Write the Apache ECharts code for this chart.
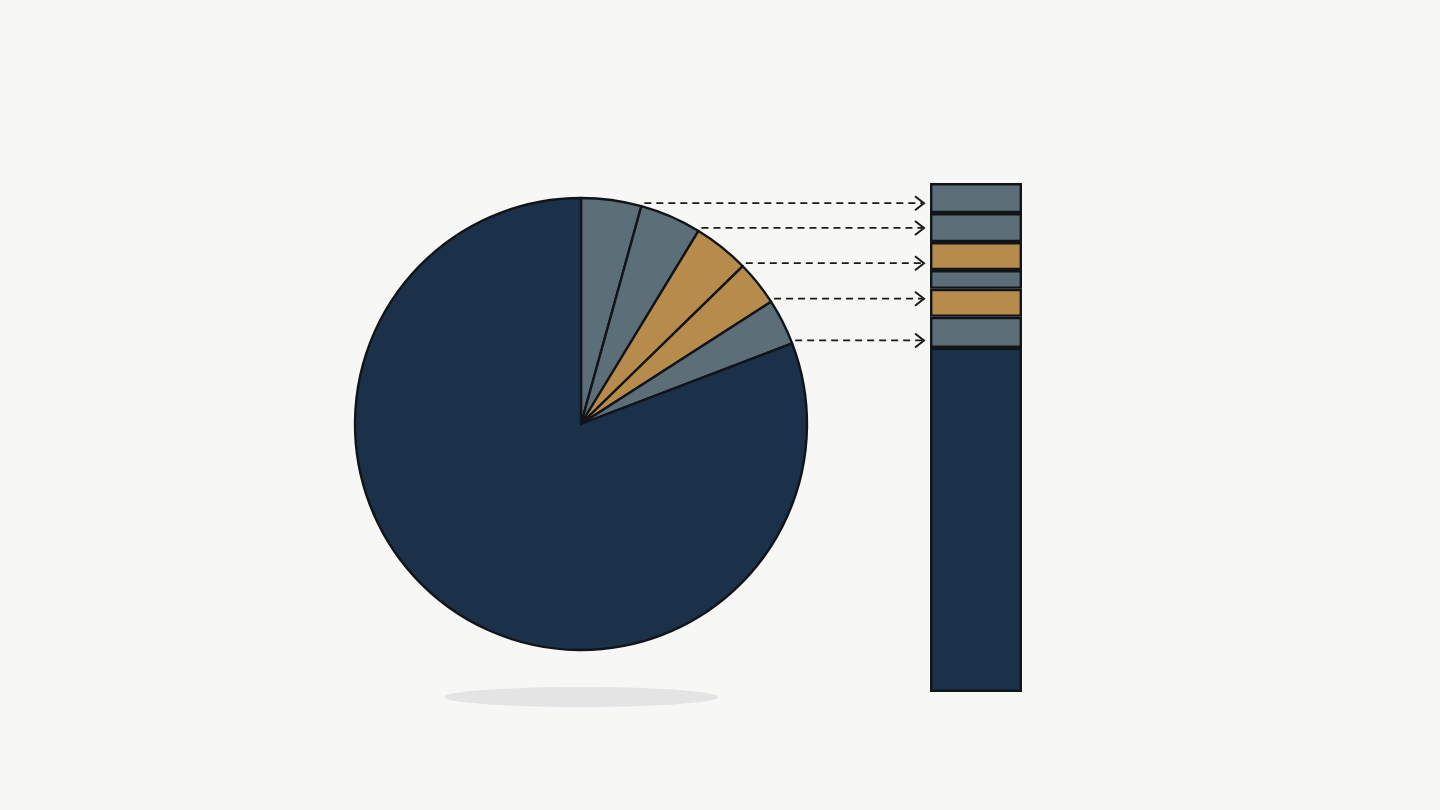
<!DOCTYPE html>
<html>
<head>
<meta charset="utf-8">
<script src="https://cdn.jsdelivr.net/npm/echarts@6/dist/echarts.min.js"></script>
<style>
html,body{margin:0;padding:0;background:#f7f7f5;}
#chart{width:1440px;height:810px;}
</style>
</head>
<body>
<div id="chart"></div>
<script>
// Pie slices, clockwise from 12 o'clock (percent of whole)
const pieNames = ['A', 'B', 'C', 'D', 'E', 'Rest'];
const pieValues = [4.3, 4.4, 4.0, 3.2, 3.3, 80.8];
const pieKinds = ['gray', 'gray', 'gold', 'gold', 'gray', 'dark'];

// Stacked bar segments, top to bottom (percent of whole)
const barNames = ['s1', 's2', 's3', 's4', 's5', 's6', 'base'];
const barValues = [5.9, 5.7, 5.5, 3.7, 5.5, 6.1, 67.6];
const barKinds = ['gray', 'gray', 'gold', 'gray', 'gold', 'gray', 'dark'];

const COLORS = { dark: '#1b3149', gray: '#5c6f79', gold: '#b68b4c' };
const EDGE = '#111418';

const PIE_CX = 581, PIE_CY = 424, PIE_R = 226;
const BAR_LEFT = 930, BAR_W = 92, BAR_TOP = 183, BAR_H = 509;

const chart = echarts.init(document.getElementById('chart'));

// bar series built bottom-up so stack order matches the picture
const barSeries = [];
for (let i = barValues.length - 1; i >= 0; i--) {
  barSeries.push({
    type: 'bar',
    name: barNames[i],
    stack: 'total',
    barWidth: '100%',
    data: [barValues[i]],
    itemStyle: { color: COLORS[barKinds[i]], borderColor: EDGE, borderWidth: 2.4 },
    silent: true
  });
}

const total = pieValues.reduce((a, b) => a + b, 0);
const graphics = [];
// shadow under the pie
graphics.push({
  type: 'ellipse',
  shape: { cx: PIE_CX, cy: PIE_CY + 273, rx: 137, ry: 10 },
  style: { fill: '#e3e4e3' },
  z: 0
});
// dashed arrows from each small slice boundary to the bar
let cum = 0;
for (let i = 0; i < pieValues.length - 1; i++) {
  cum += pieValues[i];
  const ang = cum / total * 2 * Math.PI;
  const x0 = PIE_CX + PIE_R * Math.sin(ang) + 3;
  const y0 = PIE_CY - PIE_R * Math.cos(ang) - 3;
  const x1 = BAR_LEFT - 6;
  graphics.push({
    type: 'line',
    shape: { x1: x0, y1: y0, x2: x1 - 2, y2: y0 },
    style: { stroke: '#1a1a1a', lineWidth: 1.7, lineDash: [7, 5] },
    z: 10
  });
  graphics.push({
    type: 'polyline',
    shape: { points: [[x1 - 9, y0 - 7], [x1, y0], [x1 - 9, y0 + 7]] },
    style: { stroke: '#1a1a1a', lineWidth: 2, fill: null, lineJoin: 'miter' },
    z: 10
  });
}

chart.setOption({
  backgroundColor: '#f7f7f5',
  animation: false,
  grid: { left: BAR_LEFT, top: BAR_TOP, width: BAR_W, height: BAR_H },
  xAxis: { type: 'category', data: ['bar'], show: false },
  yAxis: { type: 'value', min: 0, max: 100, show: false },
  series: [
    {
      type: 'pie',
      center: [PIE_CX, PIE_CY],
      radius: PIE_R,
      startAngle: 90,
      clockwise: true,
      label: { show: false },
      labelLine: { show: false },
      silent: true,
      data: pieValues.map((v, i) => ({
        name: pieNames[i],
        value: v,
        itemStyle: { color: COLORS[pieKinds[i]], borderColor: EDGE, borderWidth: 2.4 }
      }))
    }
  ].concat(barSeries),
  graphic: graphics
});
</script>
</body>
</html>
